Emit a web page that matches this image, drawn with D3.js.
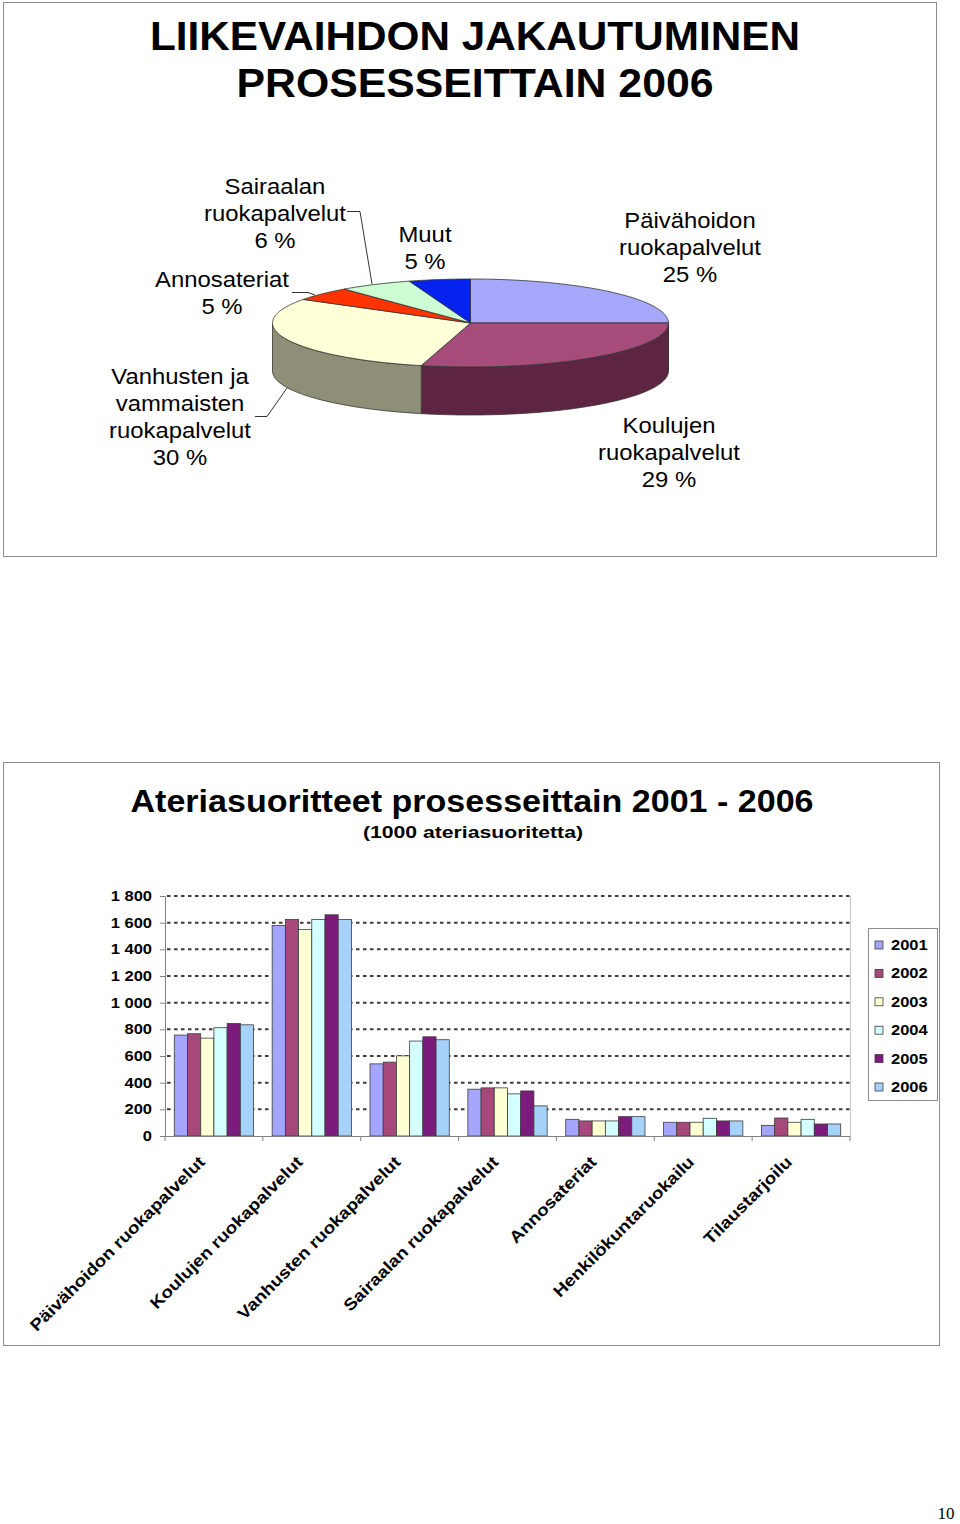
<!DOCTYPE html>
<html>
<head>
<meta charset="utf-8">
<script src="https://cdn.jsdelivr.net/npm/d3@7/dist/d3.min.js"></script>
<style>
  body { margin: 0; background: #fff; }
  svg { display: block; font-family: "Liberation Sans", Arial, sans-serif; }
</style>
</head>
<body>
<svg id="page" width="960" height="1524"></svg>
<script>
// pie data (turnover share by process, 2006)
const pieNames = ["Päivähoidon ruokapalvelut", "Koulujen ruokapalvelut", "Vanhusten ja vammaisten ruokapalvelut",
                  "Annosateriat", "Sairaalan ruokapalvelut", "Muut"];
const pieValues = [25, 29, 30, 5, 6, 5];
const pieTop = ["#a7a7fb", "#a54c7a", "#ffffd8", "#ff3300", "#cdfdd2", "#0522ee"];
const pieSide = ["#5a5a88", "#5e2542", "#8f8f77", "#8a1c00", "#7a9a7c", "#001080"];

// bar data (1000 meals)
const categories = ["Päivähoidon ruokapalvelut", "Koulujen ruokapalvelut", "Vanhusten ruokapalvelut",
                    "Sairaalan ruokapalvelut", "Annosateriat", "Henkilökuntaruokailu", "Tilaustarjoilu"];
const years = ["2001", "2002", "2003", "2004", "2005", "2006"];
const v2001 = [757, 1579, 541, 351, 125, 103, 80];
const v2002 = [767, 1624, 554, 361, 113, 103, 135];
const v2003 = [734, 1549, 601, 361, 113, 103, 103];
const v2004 = [812, 1624, 712, 316, 113, 133, 125];
const v2005 = [844, 1659, 744, 338, 145, 113, 90];
const v2006 = [834, 1624, 722, 226, 145, 113, 90];
const yTicks = [0, 200, 400, 600, 800, 1000, 1200, 1400, 1600, 1800];
const barColors = ["#a5a5ff", "#a6497a", "#ffffd4", "#d4ffff", "#7b1b7b", "#a6d2fa"];

const svg = d3.select("#page");
const stretch = 1.18; // the source text is a little wide

// ---------- pie chart box ----------
svg.append("rect").attr("x", 3.5).attr("y", 2.5).attr("width", 933).attr("height", 554)
  .attr("fill", "none").attr("stroke", "#8c8c8c");

svg.append("text").attr("x", 475).attr("y", 50).attr("text-anchor", "middle")
  .attr("font-size", 41).attr("font-weight", "bold")
  .attr("textLength", 650).attr("lengthAdjust", "spacingAndGlyphs").text("LIIKEVAIHDON JAKAUTUMINEN");
svg.append("text").attr("x", 475).attr("y", 97).attr("text-anchor", "middle")
  .attr("font-size", 41).attr("font-weight", "bold")
  .attr("textLength", 477).attr("lengthAdjust", "spacingAndGlyphs").text("PROSESSEITTAIN 2006");

const cx = 470.5, cy = 323, rx = 198, ry = 44, depth = 48;
const pt = (a, dy) => [cx + rx * Math.sin(a), cy - ry * Math.cos(a) + (dy || 0)];
const arcPts = (a0, a1, dy) => {
  const n = Math.max(2, Math.ceil(Math.abs(a1 - a0) / 0.02));
  return d3.range(n + 1).map(i => pt(a0 + (a1 - a0) * i / n, dy));
};

const arcs = d3.pie().sort(null)(pieValues);
const line = d3.line();
const gPie = svg.append("g");

// side walls (front half only)
arcs.forEach((d, i) => {
  const a0 = Math.max(d.startAngle, Math.PI / 2), a1 = Math.min(d.endAngle, 3 * Math.PI / 2);
  if (a1 <= a0) return;
  const pts = arcPts(a0, a1, 0).concat(arcPts(a1, a0, depth));
  gPie.append("path").attr("d", line(pts) + "Z")
    .attr("fill", pieSide[i]).attr("stroke", "#333").attr("stroke-width", 0.8);
});
// top faces
arcs.forEach((d, i) => {
  const pts = [[cx, cy]].concat(arcPts(d.startAngle, d.endAngle, 0));
  gPie.append("path").attr("d", line(pts) + "Z")
    .attr("fill", pieTop[i]).attr("stroke", "#333").attr("stroke-width", 0.8);
});

// pie labels
const pieLabels = [
  { lines: ["Päivähoidon", "ruokapalvelut", pieValues[0] + " %"], x: 690, y: 228 },
  { lines: ["Koulujen", "ruokapalvelut", pieValues[1] + " %"], x: 669, y: 433 },
  { lines: ["Vanhusten ja", "vammaisten", "ruokapalvelut", pieValues[2] + " %"], x: 180, y: 384 },
  { lines: ["Annosateriat", pieValues[3] + " %"], x: 222, y: 287 },
  { lines: ["Sairaalan", "ruokapalvelut", pieValues[4] + " %"], x: 275, y: 194 },
  { lines: ["Muut", pieValues[5] + " %"], x: 425, y: 242 }
];
pieLabels.forEach(l => {
  const t = svg.append("text").attr("text-anchor", "middle").attr("font-size", 21.5).attr("fill", "#000")
    .attr("transform", `translate(${l.x},0) scale(1.11,1)`);
  l.lines.forEach((s, k) => t.append("tspan").attr("x", 0).attr("y", l.y + k * 27).text(s));
});
// leader lines
const leaders = [
  [[347, 211.5], [360, 211.5], [372, 284]],
  [[292, 292.5], [308, 292.5], [315, 295]],
  [[255, 416.5], [267, 416.5], [287, 388]]
];
leaders.forEach(p => svg.append("path").attr("d", line(p)).attr("fill", "none")
  .attr("stroke", "#000").attr("stroke-width", 0.8));

// ---------- bar chart box ----------
svg.append("rect").attr("x", 3.5).attr("y", 762.5).attr("width", 936).attr("height", 583)
  .attr("fill", "none").attr("stroke", "#8c8c8c");

svg.append("text").attr("x", 472).attr("y", 812).attr("text-anchor", "middle")
  .attr("font-size", 31).attr("font-weight", "bold")
  .attr("textLength", 683).attr("lengthAdjust", "spacingAndGlyphs")
  .text("Ateriasuoritteet prosesseittain 2001 - 2006");
svg.append("text").attr("x", 473).attr("y", 838).attr("text-anchor", "middle")
  .attr("font-size", 16).attr("font-weight", "bold")
  .attr("textLength", 220).attr("lengthAdjust", "spacingAndGlyphs")
  .text("(1000 ateriasuoritetta)");

const plotL = 165, plotR = 850, plotT = 896, plotB = 1136;
const x = d3.scaleBand().domain(categories).range([plotL, plotR]).paddingInner(0.19).paddingOuter(0.095);
const xs = d3.scaleBand().domain(years).range([0, x.bandwidth()]);
const y = d3.scaleLinear().domain([0, 1800]).range([plotB, plotT]);

// plot right edge
svg.append("line").attr("x1", plotR + 0.5).attr("x2", plotR + 0.5).attr("y1", plotT).attr("y2", plotB)
  .attr("stroke", "#c8c8c8");

// grid
svg.append("g").selectAll("line").data(yTicks.filter(v => v > 0)).join("line")
  .attr("x1", plotL + 2).attr("x2", plotR).attr("y1", d => y(d)).attr("y2", d => y(d))
  .attr("stroke", "#3a3a3a").attr("stroke-width", 2).attr("stroke-dasharray", "3.5,3.5");

// bars
const series = [v2001, v2002, v2003, v2004, v2005, v2006];
const rows = [];
series.forEach((vals, s) => vals.forEach((v, c) => rows.push({ cat: categories[c], year: years[s], s, v })));
svg.append("g").selectAll("rect").data(rows).join("rect")
  .attr("x", d => x(d.cat) + xs(d.year))
  .attr("y", d => y(d.v))
  .attr("width", xs.bandwidth())
  .attr("height", d => y(0) - y(d.v))
  .attr("fill", d => barColors[d.s])
  .attr("stroke", "#3c3c3c").attr("stroke-width", 0.8);

// y axis
const fmt = d3.formatLocale({ decimal: ",", thousands: " ", grouping: [3], currency: ["", ""] }).format(",d");
const yAxis = svg.append("g").attr("transform", `translate(${plotL},0)`)
  .call(d3.axisLeft(y).tickValues(yTicks).tickFormat(fmt).tickSize(5).tickPadding(8));
yAxis.select(".domain").attr("stroke", "#808080");
yAxis.selectAll(".tick line").attr("stroke", "#808080");
yAxis.selectAll(".tick text").attr("font-size", 14).attr("font-weight", "bold")
  .attr("font-family", "Liberation Sans, Arial, sans-serif").attr("fill", "#000")
  .attr("x", -13 / stretch).attr("transform", `scale(${stretch},1)`);

// x axis line and boundary ticks
svg.append("line").attr("x1", plotL).attr("x2", plotR).attr("y1", plotB + 0.5).attr("y2", plotB + 0.5)
  .attr("stroke", "#808080");
svg.append("g").selectAll("line").data(d3.range(categories.length + 1)).join("line")
  .attr("x1", i => plotL + i * x.step()).attr("x2", i => plotL + i * x.step())
  .attr("y1", plotB).attr("y2", plotB + 5).attr("stroke", "#808080");

// category labels
svg.append("g").selectAll("text").data(categories).join("text")
  .attr("transform", d => `translate(${x(d) + x.bandwidth() / 2 - 8},1163) rotate(-45) scale(1.14,1)`)
  .attr("text-anchor", "end").attr("font-size", 16.5).attr("font-weight", "bold")
  .text(d => d);

// legend
svg.append("rect").attr("x", 868.5).attr("y", 928.5).attr("width", 69).attr("height", 172)
  .attr("fill", "#fff").attr("stroke", "#8c8c8c");
const leg = svg.append("g").selectAll("g").data(years).join("g")
  .attr("transform", (d, i) => `translate(875,${945 + i * 28.4})`);
leg.append("rect").attr("x", 0).attr("y", -4).attr("width", 8).attr("height", 8)
  .attr("fill", (d, i) => barColors[i]).attr("stroke", "#3c3c3c").attr("stroke-width", 0.8);
leg.append("text").attr("x", 16 / stretch).attr("y", 5).attr("font-size", 14).attr("font-weight", "bold")
  .attr("transform", `scale(${stretch},1)`).text(d => d);

// page number
svg.append("text").attr("x", 946).attr("y", 1519).attr("text-anchor", "middle")
  .attr("font-family", "Liberation Serif, serif").attr("font-size", 17).text("10");
</script>
</body>
</html>
